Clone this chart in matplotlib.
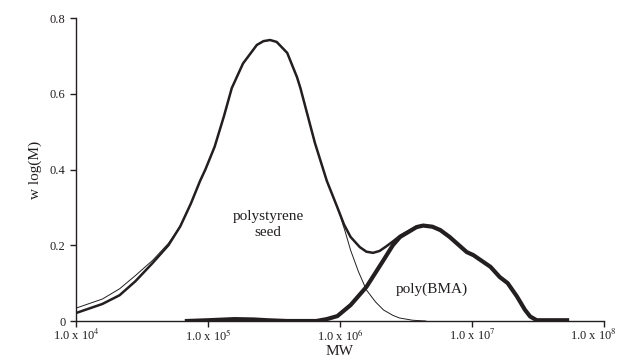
import numpy as np
import matplotlib
matplotlib.use("Agg")
import matplotlib.pyplot as plt
from matplotlib.transforms import ScaledTranslation

plt.rcParams['font.family'] = ['Liberation Serif', 'DejaVu Serif']
plt.rcParams['mathtext.fontset'] = 'stix'

# valeurs (log10 de MW, w log(M))
logM_seed = [4.0, 4.2, 4.33, 4.45, 4.58, 4.7, 4.79, 4.87, 4.94, 4.98, 5.05, 5.12, 5.18,
             5.265, 5.37, 5.42, 5.47, 5.52, 5.6, 5.674, 5.7, 5.81, 5.9, 6.0, 6.04,
             6.08, 6.14, 6.2, 6.27, 6.33, 6.4, 6.45, 6.55, 6.65]
w_seed = [0.034, 0.058, 0.085, 0.12, 0.16, 0.205, 0.25, 0.31, 0.37, 0.40, 0.46, 0.54, 0.615,
          0.68, 0.729, 0.739, 0.742, 0.737, 0.708, 0.644, 0.615, 0.47, 0.37, 0.28, 0.235,
          0.187, 0.13, 0.082, 0.05, 0.029, 0.015, 0.008, 0.002, 0.0]

logM_total = [4.0, 4.2, 4.33, 4.45, 4.58, 4.7, 4.79, 4.87, 4.94, 4.98, 5.05, 5.12, 5.18,
              5.265, 5.37, 5.42, 5.47, 5.52, 5.6, 5.674, 5.7, 5.81, 5.9, 5.98, 6.03,
              6.08, 6.15, 6.2, 6.25, 6.3, 6.35, 6.4, 6.455, 6.58, 6.63]
w_total = [0.021, 0.045, 0.068, 0.105, 0.153, 0.2, 0.25, 0.31, 0.37, 0.40, 0.46, 0.54, 0.615,
           0.68, 0.729, 0.739, 0.742, 0.737, 0.708, 0.644, 0.615, 0.47, 0.37, 0.30, 0.255,
           0.222, 0.195, 0.183, 0.18, 0.185, 0.197, 0.21, 0.225, 0.249, 0.252]

logM_bma = [4.84, 5.0, 5.2, 5.35, 5.45, 5.6, 5.82, 5.9, 5.98, 6.08, 6.2, 6.33, 6.4, 6.455,
            6.58, 6.63, 6.7, 6.76, 6.83, 6.96, 7.01, 7.14, 7.21, 7.27, 7.34, 7.4, 7.44,
            7.49, 7.6, 7.72]
w_bma = [0.0, 0.002, 0.005, 0.004, 0.002, 0.0, 0.0, 0.005, 0.013, 0.042, 0.09, 0.161, 0.2, 0.222,
         0.248, 0.252, 0.249, 0.24, 0.222, 0.182, 0.174, 0.143, 0.116, 0.10, 0.065, 0.03, 0.012,
         0.002, 0.002, 0.002]

yticks = [0, 0.2, 0.4, 0.6, 0.8]
ylabels = ['0', '0.2', '0.4', '0.6', '0.8']
xticks = [1e4, 1e5, 1e6, 1e7, 1e8]
xlabels = [r'1.0 x 10$^{4}$', r'1.0 x 10$^{5}$', r'1.0 x 10$^{6}$',
           r'1.0 x 10$^{7}$', r'1.0 x 10$^{8}$']

col = '#231f20'

fig = plt.figure(figsize=(6.24, 3.61), dpi=100)
ax = fig.add_axes([0.1218, 0.1108, 0.8462, 0.8392])

ax.plot(10 ** np.array(logM_seed), w_seed, color=col, lw=0.7)
ax.plot(10 ** np.array(logM_total), w_total, color=col, lw=1.8, solid_joinstyle='round')
ax.plot(10 ** np.array(logM_bma), w_bma, color=col, lw=3.0, solid_joinstyle='round')

ax.set_xscale('log')
ax.set_xlim(1e4, 1e8)
ax.set_ylim(0, 0.8)
ax.set_xticks(xticks)
ax.set_xticklabels(xlabels)
ax.minorticks_off()
ax.set_yticks(yticks)
ax.set_yticklabels(ylabels)
ax.tick_params(direction='out', length=4, width=1, labelsize=9, colors=col)
ax.tick_params(axis='x', pad=1)

# le dernier label est decale vers la gauche comme sur l'original
last = ax.get_xticklabels()[-1]
last.set_transform(last.get_transform() + ScaledTranslation(-11 / 100, 0, fig.dpi_scale_trans))

for s in ['top', 'right']:
    ax.spines[s].set_visible(False)
for s in ['left', 'bottom']:
    ax.spines[s].set_linewidth(1.0)
    ax.spines[s].set_color(col)

ax.set_xlabel('MW', fontsize=11, color=col)
ax.xaxis.set_label_coords(0.5, -0.078)
ax.set_ylabel('w log(M)', fontsize=11, color=col)
ax.yaxis.set_label_coords(-0.064, 0.5)

ax.text(10 ** 5.455, 0.256, 'polystyrene\nseed', ha='center', va='center',
        fontsize=11, color=col, linespacing=1.3)
ax.text(10 ** 6.697, 0.085, 'poly(BMA)', ha='center', va='center',
        fontsize=11, color=col)

fig.savefig('out.png', dpi=100)
